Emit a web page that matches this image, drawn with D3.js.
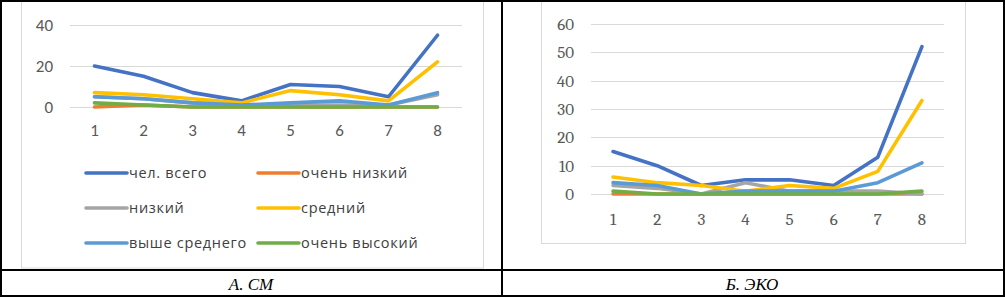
<!DOCTYPE html>
<html>
<head>
<meta charset="utf-8">
<script src="https://cdn.jsdelivr.net/npm/d3@7"></script>
<style>
  body { margin: 0; background: #fff; }
  svg { display: block; }
</style>
</head>
<body>
<div id="vis"></div>
<script>
// categories (x axis)
var categories = ["1", "2", "3", "4", "5", "6", "7", "8"];
var seriesNames = ["чел. всего", "очень низкий", "низкий", "средний", "выше среднего", "очень высокий"];
var colors = ["#4472C4", "#ED7D31", "#A5A5A5", "#FFC000", "#5B9BD5", "#70AD47"];

// А. СМ
var smTotal    = [20, 15, 7, 3, 11, 10, 5, 35];
var smVeryLow  = [0, 1, 0, 0, 0, 0, 0, 0];
var smLow      = [5, 4, 2, 1, 1, 1, 1, 6];
var smMid      = [7, 6, 4, 2, 8, 6, 3, 22];
var smAboveMid = [5, 4, 2, 1, 2, 3, 1, 7];
var smVeryHigh = [2, 1, 0, 0, 0, 0, 0, 0];
var smTicks = [0, 20, 40];

// Б. ЭКО
var ecoTotal    = [15, 10, 3, 5, 5, 3, 13, 52];
var ecoVeryLow  = [0, 0, 0, 0, 0, 0, 0, 0];
var ecoLow      = [3, 2, 0, 4, 1, 1, 1, 0];
var ecoMid      = [6, 4, 3, 1, 3, 2, 8, 33];
var ecoAboveMid = [4, 3, 0, 1, 1, 1, 4, 11];
var ecoVeryHigh = [1, 0, 0, 0, 0, 0, 0, 1];
var ecoTicks = [0, 10, 20, 30, 40, 50, 60];

var W = 1005, H = 297;
var svg = d3.select("#vis").append("svg").attr("width", W).attr("height", H);

// chart area frames
svg.append("rect").attr("x", 21.5).attr("y", -2).attr("width", 462).attr("height", 270)
  .attr("fill", "#fff").attr("stroke", "#d9d9d9");
svg.append("rect").attr("x", 541.5).attr("y", -2).attr("width", 424).attr("height", 245.5)
  .attr("fill", "#fff").attr("stroke", "#d9d9d9");

function drawChart(opts) {
  var g = svg.append("g");
  var x = d3.scaleBand().domain(categories).range([opts.x0, opts.x1]);
  var y = d3.scaleLinear().domain([0, opts.max]).range([opts.y0, opts.y1]);

  // gridlines
  g.selectAll("line.grid").data(opts.ticks).enter().append("line")
    .attr("x1", opts.x0).attr("x2", opts.x1)
    .attr("y1", function(d) { return Math.round(y(d)) + 0.5; })
    .attr("y2", function(d) { return Math.round(y(d)) + 0.5; })
    .attr("stroke", "#d9d9d9").attr("stroke-width", 1);

  // y labels
  g.selectAll("text.yl").data(opts.ticks).enter().append("text")
    .attr("x", opts.labelX).attr("y", function(d) { return y(d); })
    .attr("dy", "0.35em").attr("text-anchor", "end")
    .attr("font-family", opts.font).attr("font-size", opts.fontSize)
    .attr("fill", "#595959").text(function(d) { return d; });

  // x labels
  g.selectAll("text.xl").data(categories).enter().append("text")
    .attr("x", function(d) { return x(d) + x.bandwidth() / 2; })
    .attr("y", opts.xLabelY).attr("dy", "0.35em").attr("text-anchor", "middle")
    .attr("font-family", opts.font).attr("font-size", opts.fontSize)
    .attr("fill", "#595959").text(function(d) { return d; });

  var line = d3.line()
    .x(function(d, i) { return x(categories[i]) + x.bandwidth() / 2; })
    .y(function(d) { return y(d); });

  // draw in Excel order
  opts.series.forEach(function(s, k) {
    g.append("path").datum(s)
      .attr("d", line).attr("fill", "none")
      .attr("stroke", colors[k]).attr("stroke-width", 3.6)
      .attr("stroke-linejoin", "round").attr("stroke-linecap", "round");
  });
}

drawChart({
  x0: 70, x1: 462, y0: 107, y1: 25, max: 40, ticks: smTicks,
  labelX: 53, xLabelY: 130, font: "Carlito, 'Open Sans', sans-serif", fontSize: 17,
  series: [smTotal, smVeryLow, smLow, smMid, smAboveMid, smVeryHigh]
});

drawChart({
  x0: 591, x1: 944, y0: 194, y1: 24, max: 60, ticks: ecoTicks,
  labelX: 574, xLabelY: 219, font: "Cambria, 'Liberation Serif', serif", fontSize: 17,
  series: [ecoTotal, ecoVeryLow, ecoLow, ecoMid, ecoAboveMid, ecoVeryHigh]
});

// legend for А. СМ
var legend = svg.append("g");
var legendItems = seriesNames.map(function(n, i) { return { name: n, color: colors[i], col: i % 2, row: Math.floor(i / 2) }; });
var li = legend.selectAll("g").data(legendItems).enter().append("g")
  .attr("transform", function(d) { return "translate(" + (86 + d.col * 172) + "," + (173 + d.row * 35) + ")"; });
li.append("line").attr("x1", 0).attr("x2", 41).attr("y1", 0).attr("y2", 0)
  .attr("stroke", function(d) { return d.color; }).attr("stroke-width", 3.6).attr("stroke-linecap", "round");
li.append("text").attr("x", 43).attr("y", 0).attr("dy", "0.35em")
  .attr("font-family", "'Open Sans', sans-serif").attr("font-size", 14.5)
  .attr("letter-spacing", 0.7)
  .attr("fill", "#404040").text(function(d) { return d.name; });

// table frame
svg.append("rect").attr("x", 1).attr("y", 1).attr("width", W - 2).attr("height", H - 2)
  .attr("fill", "none").attr("stroke", "#000").attr("stroke-width", 2);
svg.append("line").attr("x1", 502).attr("x2", 502).attr("y1", 0).attr("y2", H)
  .attr("stroke", "#000").attr("stroke-width", 2);
svg.append("line").attr("x1", 0).attr("x2", W).attr("y1", 270).attr("y2", 270)
  .attr("stroke", "#000").attr("stroke-width", 2);

// captions
var captions = [{ text: "А. СМ", x: 251 }, { text: "Б. ЭКО", x: 752 }];
svg.selectAll("text.cap").data(captions).enter().append("text")
  .attr("x", function(d) { return d.x; }).attr("y", 284).attr("dy", "0.35em")
  .attr("text-anchor", "middle").attr("font-family", "'Liberation Serif', serif")
  .attr("font-style", "italic").attr("font-size", 17).attr("fill", "#000")
  .text(function(d) { return d.text; });
</script>
</body>
</html>
